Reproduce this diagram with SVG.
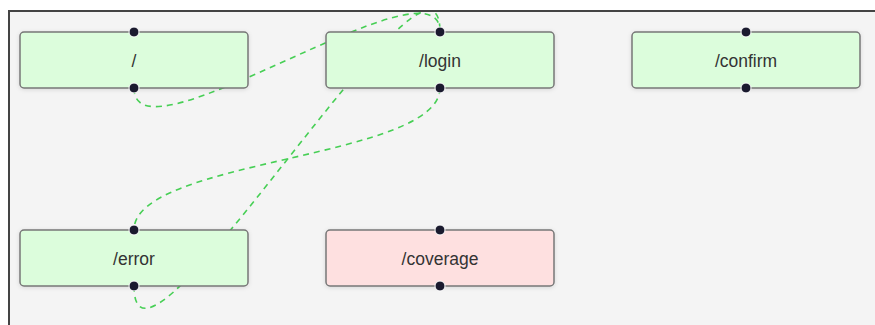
<svg xmlns="http://www.w3.org/2000/svg" width="875" height="325" viewBox="0 0 875 325">
  <style>
    .node rect { stroke: #777; stroke-width: 1.5; filter: url(#shadow); }
    .ok rect { fill: #dcfddc; }
    .bad rect { fill: #fee0e0; }
    .node text { font-family: "Liberation Sans", Arial, sans-serif; font-size: 17.5px; fill: #333; text-anchor: middle; dominant-baseline: central; }
    .handle { fill: #1a1a2e; stroke: #fff; stroke-width: 1; }
    .edge { fill: none; stroke: #47cf55; stroke-width: 1.6; stroke-dasharray: 6 5; }
  </style>
  <defs>
    <filter id="shadow" x="-10%" y="-30%" width="120%" height="160%">
      <feDropShadow dx="0" dy="1" stdDeviation="2" flood-color="#000" flood-opacity="0.12"/>
    </filter>
    <clipPath id="pane">
      <rect x="9" y="12" width="866" height="313"/>
    </clipPath>
  </defs>

  <!-- canvas -->
  <rect x="0" y="0" width="875" height="325" fill="#ffffff"/>
  <rect x="9" y="11" width="870" height="320" fill="#f4f4f4" stroke="#444" stroke-width="2"/>

  <!-- connectors -->
  <g id="edges" clip-path="url(#pane)">
    <path class="edge" d="M134,88 C134,170 440,-50 440,32"/>
    <path class="edge" d="M134,286 C134,420 440,-100 440,32"/>
    <path class="edge" d="M440,88 C440,159 134,159 134,230"/>
  </g>

  <!-- nodes -->
  <g id="node-root" class="node ok">
    <rect x="20" y="32" width="228" height="56" rx="4"/>
    <text x="134" y="61">/</text>
    <circle class="handle" cx="134" cy="32" r="5"/>
    <circle class="handle" cx="134" cy="88" r="5"/>
  </g>
  <g id="node-login" class="node ok">
    <rect x="326" y="32" width="228" height="56" rx="4"/>
    <text x="440" y="61">/login</text>
    <circle class="handle" cx="440" cy="32" r="5"/>
    <circle class="handle" cx="440" cy="88" r="5"/>
  </g>
  <g id="node-confirm" class="node ok">
    <rect x="632" y="32" width="228" height="56" rx="4"/>
    <text x="746" y="61">/confirm</text>
    <circle class="handle" cx="746" cy="32" r="5"/>
    <circle class="handle" cx="746" cy="88" r="5"/>
  </g>
  <g id="node-error" class="node ok">
    <rect x="20" y="230" width="228" height="56" rx="4"/>
    <text x="134" y="259">/error</text>
    <circle class="handle" cx="134" cy="230" r="5"/>
    <circle class="handle" cx="134" cy="286" r="5"/>
  </g>
  <g id="node-coverage" class="node bad">
    <rect x="326" y="230" width="228" height="56" rx="4"/>
    <text x="440" y="259">/coverage</text>
    <circle class="handle" cx="440" cy="230" r="5"/>
    <circle class="handle" cx="440" cy="286" r="5"/>
  </g>
</svg>
